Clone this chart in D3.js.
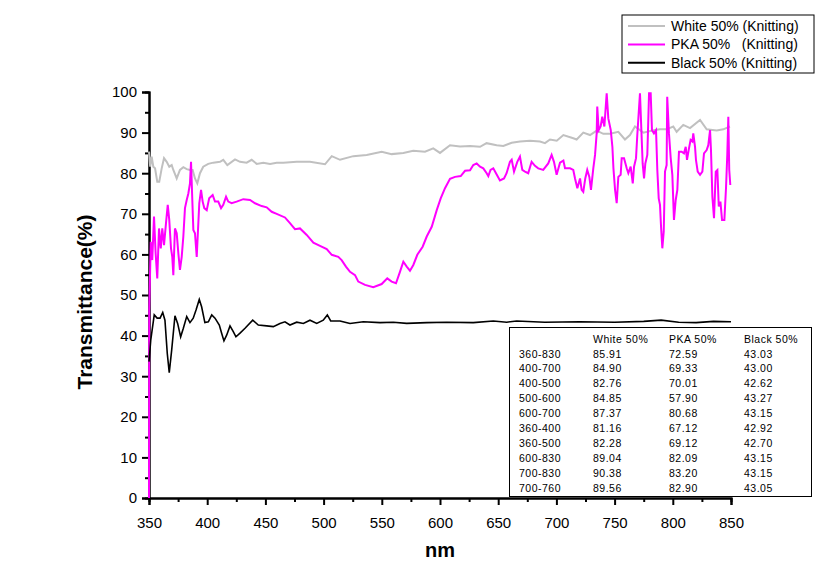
<!DOCTYPE html>
<html>
<head>
<meta charset="utf-8">
<script src="https://cdn.jsdelivr.net/npm/d3@7"></script>
<style>
  body { margin: 0; background: #fff; }
  svg { font-family: Arial, "Liberation Sans", sans-serif; }
  text { white-space: pre; }
</style>
</head>
<body>
<svg id="chart" width="830" height="580"></svg>
<script>
"use strict";

// series data: [wavelength nm, transmittance %]
const whiteData = [[350,85.3],[351,81.6],[352.3,84.1],[353.7,81.6],[355.2,81.2],[357.1,77.9],[358.8,77.9],[360.9,81.2],[362.9,83.7],[365.2,82.8],[367.4,81.6],[369.5,82.0],[370.9,80.8],[373.8,78.7],[376.6,80.8],[379.5,81.5],[382.4,81.0],[385.2,80.8],[387.5,80.8],[389.5,78.7],[391.5,77.5],[393.8,80.0],[396.6,81.6],[400.9,82.3],[405.2,82.6],[411,82.8],[413.8,83.3],[417.3,82.0],[423.9,83.4],[428.2,82.8],[433.9,82.6],[438.2,83.3],[442.5,82.3],[448.2,82.6],[454,82.3],[459.7,82.6],[465.4,82.6],[476.9,82.8],[488.3,82.8],[501.2,82.2],[507,84.2],[514.1,83.3],[525.5,84.2],[537,84.5],[549.9,85.3],[558.5,84.7],[568.5,85.0],[577,85.5],[587.1,85.3],[594.2,86.1],[600,85.0],[608.6,86.9],[617.2,86.6],[625.8,86.7],[634.4,86.5],[640,87.4],[648.7,86.9],[654.4,86.7],[661.6,87.5],[668.7,87.8],[677.3,88.0],[685.9,87.8],[690.2,87.4],[694.5,88.3],[700.3,88.0],[706,89.4],[714.5,88.6],[717.4,88.3],[723.1,90.0],[728.9,89.4],[734.6,90.5],[740.3,89.7],[746.1,89.7],[753.2,90.2],[758.9,88.3],[763.2,89.4],[767.5,91.5],[774.7,90.0],[783.2,90.6],[789,90.8],[794.7,90.8],[800.4,91.5],[803.3,90.2],[809,91.9],[814.8,91.1],[823.4,93.1],[829.1,90.8],[837.7,90.5],[843.4,90.8],[849.1,91.5]];

const pkaData = [[350,0],[350.2,46.3],[351.5,63.1],[352.8,58.6],[354.3,69.3],[355.7,60.3],[357.1,54.1],[358.6,66.4],[360.1,61.5],[361.4,66.4],[362.9,62.3],[364.6,67.7],[366.1,72.2],[367.4,68.5],[368.9,61.5],[370,59.4],[370.9,54.9],[372.3,66.4],[373.8,65.2],[375.2,60.3],[376.6,56.2],[378.1,59.4],[379.5,64.4],[380.9,71.4],[382.4,73.4],[383.8,75.0],[385.2,77.5],[386.1,82.8],[387.2,73.4],[388.1,66.0],[389.5,65.2],[391,59.4],[392.1,66.0],[393.2,72.6],[394.7,75.9],[396.1,73.0],[397.5,71.4],[399.6,70.9],[401.7,73.8],[404.7,74.6],[406.7,73.0],[409.5,73.0],[411.9,71.4],[413.8,72.2],[416.2,74.2],[418.1,73.0],[421,72.6],[425.3,73.0],[431,73.6],[436.8,73.4],[441.1,72.6],[446.8,71.9],[451.1,71.6],[455.4,70.5],[459.7,70.0],[466.8,69.1],[471.1,67.7],[475.4,66.2],[479.7,66.4],[485.5,64.8],[491.2,62.9],[496.9,62.1],[502.7,61.3],[507,59.9],[512.6,59.4],[515.5,58.6],[519.2,57.0],[522.7,55.7],[527,54.9],[529.8,53.3],[535.6,52.5],[542.7,51.9],[549.9,52.7],[554.7,54.1],[558.5,53.3],[562.2,52.9],[565.6,55.7],[568.5,58.2],[571.4,57.0],[574.2,56.0],[577.1,57.4],[580.5,59.9],[585.1,61.9],[588.6,64.4],[592.9,66.8],[597.2,70.9],[600.6,73.8],[604.3,76.3],[608.6,78.6],[612.9,79.1],[617.8,79.3],[621.5,80.6],[625.8,80.7],[628.6,82.0],[631.5,82.4],[634.4,81.6],[637.2,81.2],[640.1,80.0],[641.5,79.3],[643.4,80.8],[645.8,81.2],[648.1,80.0],[651.5,78.2],[655,78.7],[657.2,80.0],[660.1,82.8],[661.6,83.3],[663.6,80.4],[666.4,82.8],[668.7,84.1],[670.7,80.8],[673,80.4],[675.8,80.0],[678.7,82.8],[681.6,81.8],[684.4,81.2],[688.7,80.8],[693,82.4],[695.9,84.5],[697.9,82.8],[700.2,79.6],[703.1,82.6],[706,83.1],[707.4,81.2],[711.7,81.2],[714.5,80.8],[716,78.7],[718,76.3],[720.3,78.7],[721.7,75.9],[723.1,75.4],[724.8,78.7],[726.5,80.8],[728.3,79.1],[729.7,75.9],[731.7,81.2],[733.2,84.5],[734.6,89.8],[735.1,96.4],[736.3,90.6],[738,91.5],[739.4,93.9],[741.2,91.5],[743.2,99.7],[744.6,93.5],[746.7,90.6],[748.1,86.5],[749,81.2],[750.4,75.9],[751.8,72.6],[753.2,79.1],[755.2,79.6],[756.1,83.7],[758.1,83.7],[760.4,81.2],[761.8,80.0],[763.8,81.6],[765.6,77.5],[766.7,81.6],[768.4,83.7],[769.5,89.4],[770.7,94.8],[771.8,99.7],[773,90.6],[774.1,82.4],[775.3,78.7],[776.4,82.4],[778.1,84.5],[779.6,99.7],[781,99.7],[782.1,90.6],[783.8,89.8],[785.6,90.6],[786.7,80.8],[787.9,73.8],[789,72.2],[789.9,66.8],[791,61.5],[792.2,65.6],[793.3,80.4],[794.7,82.0],[795.2,98.8],[796.7,89.8],[798.2,83.7],[799.6,79.6],[801,68.5],[802.5,73.4],[803.9,75.9],[805.3,85.3],[807.6,85.3],[809.6,84.9],[811.1,86.5],[812.2,83.3],[813.9,86.1],[815.3,88.2],[816.8,87.8],[817.6,89.8],[819.1,86.5],[819.9,83.3],[821.4,80.4],[823.4,79.6],[825.4,80.4],[826.8,84.9],[829.1,85.7],[830.5,86.9],[832,90.6],[832.8,85.7],[834,74.2],[835.4,68.9],[836.9,80.4],[838.3,80.8],[839.5,71.8],[840.9,73.0],[842.3,68.5],[844.3,68.5],[845.7,76.3],[846.8,84.5],[847.7,93.9],[848.5,80.8],[849.4,77.1]];

const blackData = [[350,33.6],[351.5,38.9],[354.5,45.1],[357,44.3],[359.5,44.3],[361.8,45.7],[363.7,43.8],[365.7,35.6],[367.4,30.9],[369.5,36.5],[372.3,44.9],[374.6,43.0],[377.2,39.7],[379.5,41.8],[382.4,44.7],[385.2,43.2],[388,44.3],[390.4,46.3],[393.2,48.9],[395.2,47.1],[398,43.2],[401,43.4],[403.9,45.1],[406.7,44.3],[410.4,42.6],[412.4,40.6],[414.4,38.7],[416.7,40.1],[419.6,42.4],[422.4,41.0],[424.7,39.7],[428.2,40.6],[432.5,41.8],[439.1,43.8],[443.9,42.6],[451.1,42.4],[456.8,42.2],[462.5,43.0],[466.8,43.4],[471.1,42.6],[476.9,43.3],[482.6,43.0],[488.3,43.8],[494.1,43.0],[499.7,43.8],[503.2,45.1],[506.1,43.6],[514.1,43.6],[522.7,43.0],[534.1,43.4],[548.5,43.2],[559.9,43.3],[571.4,43.0],[588.6,43.2],[605.8,43.3],[628.6,43.2],[645.8,43.6],[657.3,43.3],[665.9,43.6],[690,43.3],[720,43.4],[750,43.3],[775,43.5],[790,43.8],[805,43.3],[820,43.2],[835,43.5],[850,43.4]];

// legend
const seriesNames = ["White 50% (Knitting)", "PKA 50%   (Knitting)", "Black 50% (Knitting)"];
const seriesColors = ["#c0c0c0", "#ff00ff", "#000000"];

// inset table
const tableHeader = ["", "White 50%", "PKA 50%", "Black 50%"];
const tableRanges = ["360-830", "400-700", "400-500", "500-600", "600-700", "360-400", "360-500", "600-830", "700-830", "700-760"];
const tableWhite = ["85.91", "84.90", "82.76", "84.85", "87.37", "81.16", "82.28", "89.04", "90.38", "89.56"];
const tablePka = ["72.59", "69.33", "70.01", "57.90", "80.68", "67.12", "69.12", "82.09", "83.20", "82.90"];
const tableBlack = ["43.03", "43.00", "42.62", "43.27", "43.15", "42.92", "42.70", "43.15", "43.15", "43.05"];

const xTicks = d3.range(350, 851, 50);
const yTicks = d3.range(0, 101, 10);

const svg = d3.select("#chart");
const x = d3.scaleLinear().domain([350, 850]).range([149, 731]);
const y = d3.scaleLinear().domain([0, 100]).range([498, 92]);

// axes
const xAxis = svg.append("g").attr("transform", "translate(0,498)");
xAxis.call(d3.axisBottom(x).tickValues(d3.range(375, 850, 50)).tickSize(4).tickFormat(""));
xAxis.call(g => g.append("g").call(d3.axisBottom(x).tickValues(xTicks).tickSize(7).tickPadding(12)));
const yAxis = svg.append("g").attr("transform", "translate(149,0)");
yAxis.call(d3.axisLeft(y).tickValues(d3.range(5, 100, 10)).tickSize(4).tickFormat(""));
yAxis.call(g => g.append("g").call(d3.axisLeft(y).tickValues(yTicks).tickSize(7).tickPadding(5)));

svg.selectAll(".domain").attr("stroke", "#000").attr("stroke-width", 2);
svg.selectAll(".tick line").attr("stroke", "#000").attr("stroke-width", 2);
svg.selectAll(".tick text").attr("fill", "#000").style("font-size", "15px")
  .style("font-family", "Arial, 'Liberation Sans', sans-serif");

// axis titles
svg.append("text").attr("x", 440).attr("y", 557).attr("text-anchor", "middle")
  .style("font-weight", "bold").style("font-size", "20px").text("nm");
svg.append("text").attr("transform", "translate(92,302) rotate(-90)").attr("text-anchor", "middle")
  .style("font-weight", "bold").style("font-size", "21px").text("Transmittance(%)");

// lines
const line = d3.line().x(d => x(d[0])).y(d => y(d[1]));
const allData = [whiteData, pkaData, blackData];
const widths = [2, 2, 1.6];
allData.forEach((d, i) => {
  svg.append("path").datum(d).attr("d", line)
    .attr("fill", "none").attr("stroke", seriesColors[i])
    .attr("stroke-width", widths[i]).attr("stroke-linejoin", "miter");
});

// legend box
const legend = svg.append("g");
legend.append("rect").attr("x", 622).attr("y", 15).attr("width", 192).attr("height", 58)
  .attr("fill", "#fff").attr("stroke", "#000").attr("stroke-width", 1);
seriesNames.forEach((name, i) => {
  const ly = 26 + i * 18.4;
  legend.append("line").attr("x1", 628).attr("x2", 665).attr("y1", ly).attr("y2", ly)
    .attr("stroke", seriesColors[i]).attr("stroke-width", 2);
  legend.append("text").attr("x", 671).attr("y", ly).attr("dy", "0.35em")
    .style("font-size", "14px").text(name);
});

// table
const table = svg.append("g");
table.append("rect").attr("x", 509.5).attr("y", 327.5).attr("width", 302).attr("height", 169)
  .attr("fill", "#fff").attr("stroke", "#000").attr("stroke-width", 1);
const colX = [519, 593, 669, 744];
const rowY = d3.scaleLinear().domain([0, 10]).range([339, 488]);
const rows = [tableHeader].concat(tableRanges.map((r, i) => [r, tableWhite[i], tablePka[i], tableBlack[i]]));
rows.forEach((row, ri) => {
  row.forEach((cell, ci) => {
    table.append("text").attr("x", colX[ci]).attr("y", rowY(ri)).attr("dy", "0.35em")
      .style("font-size", "10.5px").style("letter-spacing", "0.5px").text(cell);
  });
});
</script>
</body>
</html>
